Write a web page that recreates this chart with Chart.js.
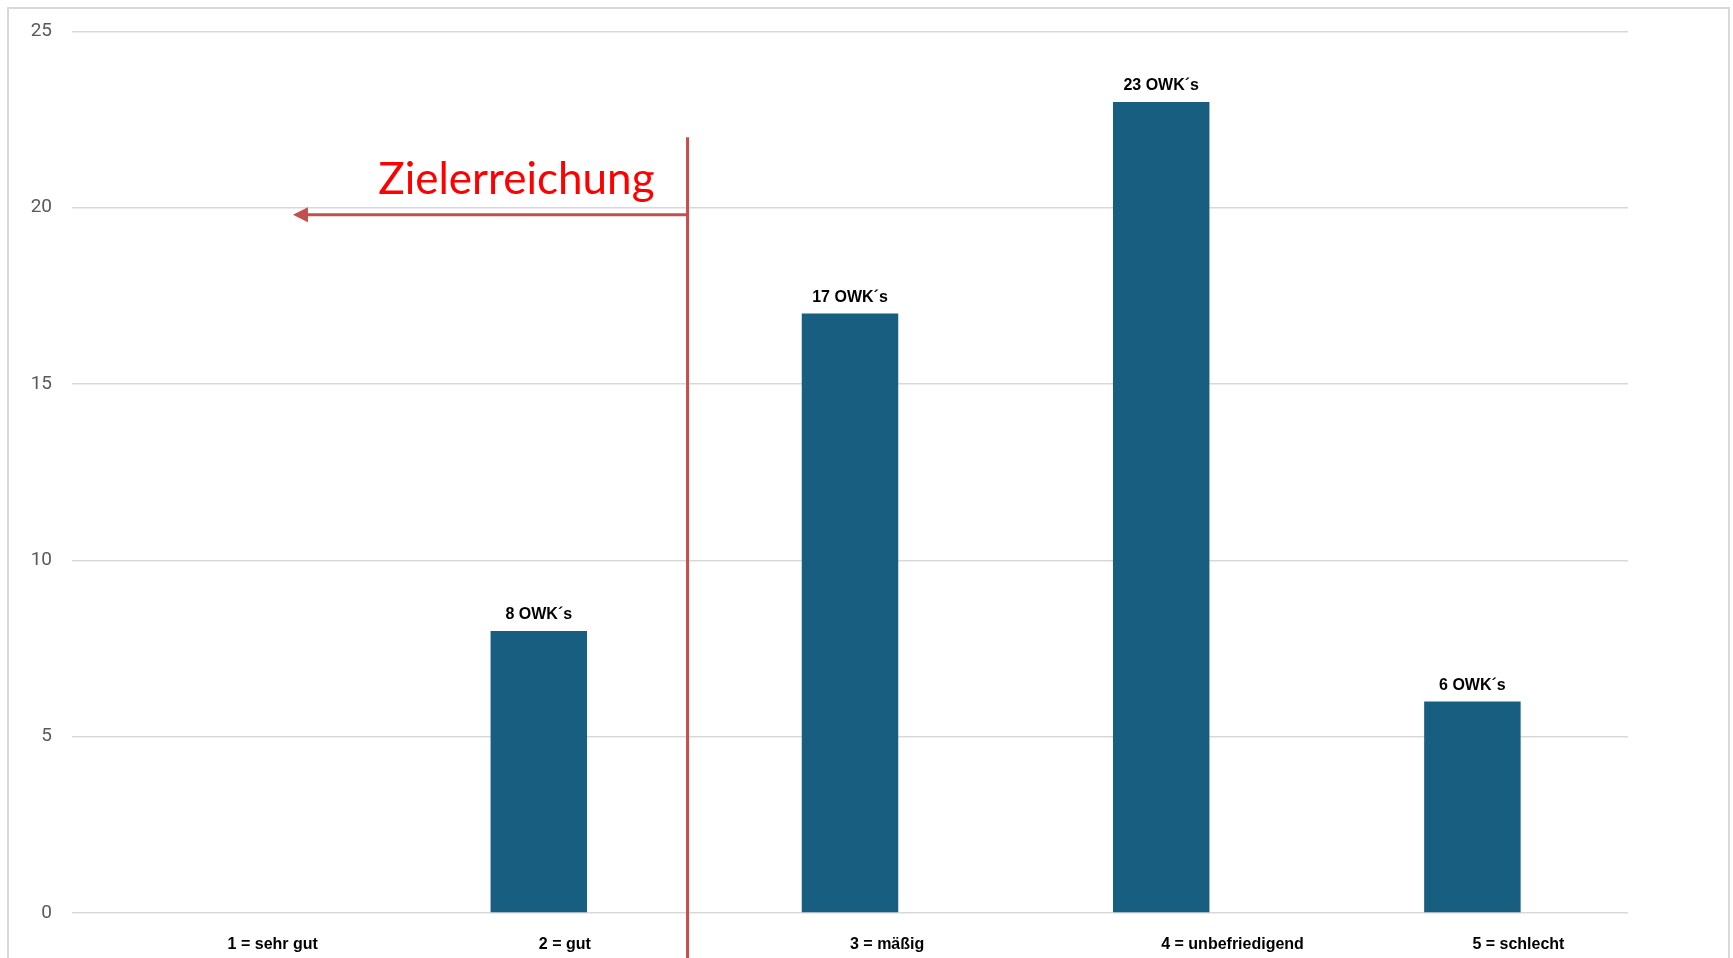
<!DOCTYPE html>
<html lang="de">
<head>
  <meta charset="UTF-8">
  <title>OWK Bewertung</title>
  <script src="https://cdn.jsdelivr.net/npm/chart.js"></script>
  <style>
    body {
      margin: 0;
      background-color: #ffffff;
      overflow: hidden;
    }

    .frame {
      position: absolute;
      left: 7px;
      top: 7px;
      width: 1719px;
      height: 960px;
      border: 2px solid #d9d9d9;
      border-bottom: none;
      pointer-events: none;
    }

    #owkChart {
      position: absolute;
      left: 0;
      top: 0;
    }
  </style>
</head>
<body>
  <canvas id="owkChart" width="1733" height="958"></canvas>
  <div class="frame"></div>

  <script>
    const categories = ['1 = sehr gut', '2 = gut', '3 = mäßig', '4 = unbefriedigend', '5 = schlecht'];
    const owkCounts = [0, 8, 17, 23, 6];
    const yTicks = [0, 5, 10, 15, 20, 25];
    const barLabels = ['', '8 OWK´s', '17 OWK´s', '23 OWK´s', '6 OWK´s'];
    const targetText = 'Zielerreichung';

    // labels above the bars
    const barLabelPlugin = {
      id: 'barLabels',
      afterDatasetsDraw(chart) {
        const ctx = chart.ctx;
        const meta = chart.getDatasetMeta(0);
        ctx.save();
        ctx.font = 'bold 16px "Liberation Sans", Arial, sans-serif';
        ctx.fillStyle = '#000000';
        ctx.textAlign = 'center';
        ctx.textBaseline = 'middle';
        meta.data.forEach((bar, i) => {
          if (!barLabels[i]) return;
          ctx.fillText(barLabels[i], bar.x, bar.y - 16);
        });
        ctx.restore();
      }
    };

    // red divider with arrow and text
    const targetPlugin = {
      id: 'target',
      afterDraw(chart) {
        const ctx = chart.ctx;
        const x = chart.scales.x;
        const y = chart.scales.y;
        const step = x.getPixelForValue(1) - x.getPixelForValue(0);
        const lineX = x.getPixelForValue(1) + step * 0.478;
        const arrowY = y.getPixelForValue(19.8);
        const tipX = x.getPixelForValue(0) + step * 0.21;

        ctx.save();
        ctx.strokeStyle = '#c94c4c';
        ctx.lineWidth = 3;
        ctx.beginPath();
        ctx.moveTo(lineX, y.getPixelForValue(22));
        ctx.lineTo(lineX, chart.height);
        ctx.stroke();

        ctx.strokeStyle = '#c0504d';
        ctx.fillStyle = '#c0504d';
        ctx.beginPath();
        ctx.moveTo(lineX, arrowY);
        ctx.lineTo(tipX + 12, arrowY);
        ctx.stroke();
        ctx.beginPath();
        ctx.moveTo(tipX, arrowY);
        ctx.lineTo(tipX + 15, arrowY - 7.5);
        ctx.lineTo(tipX + 15, arrowY + 7.5);
        ctx.closePath();
        ctx.fill();

        ctx.font = '44px Lato, "Open Sans", sans-serif';
        ctx.fillStyle = '#ff0000';
        ctx.textAlign = 'right';
        ctx.textBaseline = 'alphabetic';
        ctx.fillText(targetText, lineX - 33, arrowY - 21);
        ctx.restore();
      }
    };

    new Chart(document.getElementById('owkChart'), {
      type: 'bar',
      data: {
        labels: categories,
        datasets: [{
          label: 'OWK',
          data: owkCounts,
          backgroundColor: '#185e80',
          categoryPercentage: 1,
          barPercentage: 0.31,
        }],
      },
      options: {
        responsive: false,
        animation: false,
        layout: {
          padding: { top: 30, right: 105, left: 0, bottom: 0 }
        },
        plugins: {
          legend: { display: false },
          tooltip: { enabled: false },
        },
        scales: {
          x: {
            grid: { display: false },
            border: { display: false },
            ticks: {
              align: 'start',
              padding: 14,
              color: '#000000',
              maxRotation: 0,
              autoSkip: false,
              font: { family: '"Liberation Sans", Arial, sans-serif', size: 16, weight: 'bold' },
            },
            afterFit(scale) { scale.height = 45; },
          },
          y: {
            min: 0,
            max: 25,
            afterBuildTicks(scale) { scale.ticks = yTicks.map(v => ({ value: v })); },
            grid: { color: '#d9d9d9', lineWidth: 1.5, drawTicks: false },
            border: { display: false },
            ticks: {
              padding: 20,
              color: '#595959',
              font: { family: 'Roboto, "Liberation Sans", sans-serif', size: 19 },
            },
            afterFit(scale) { scale.width = 72; },
          },
        },
      },
      plugins: [barLabelPlugin, targetPlugin],
    });
  </script>
</body>
</html>
